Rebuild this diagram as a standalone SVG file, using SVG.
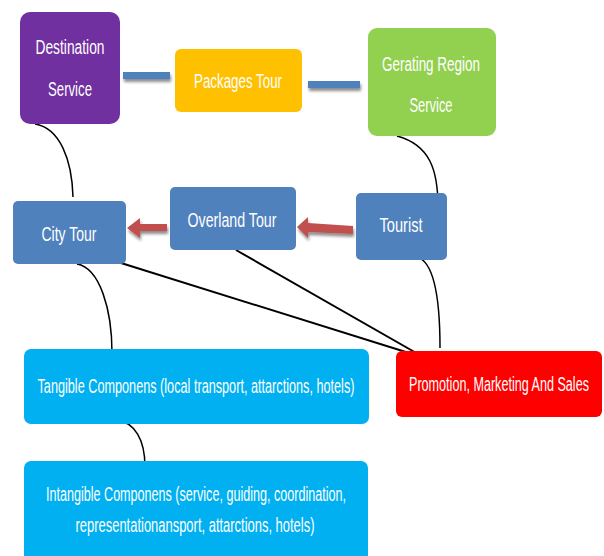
<svg xmlns="http://www.w3.org/2000/svg" width="604" height="556" viewBox="0 0 604 556">
<style>
text{font-family:"Liberation Sans",Arial,sans-serif;font-size:21px;fill:#ffffff;text-anchor:middle}
.curve{fill:none;stroke:#000;stroke-width:1.5}
.line{fill:none;stroke:#000;stroke-width:2}
.bar{fill:#4F81BD}
.arrow{fill:#C0504D}
</style>
<defs>
<filter id="sh" x="-20%" y="-50%" width="140%" height="250%">
<feGaussianBlur in="SourceAlpha" stdDeviation="1.5"/>
<feOffset dx="1" dy="3" result="b"/>
<feComponentTransfer><feFuncA type="linear" slope="0.45"/></feComponentTransfer>
<feMerge><feMergeNode/><feMergeNode in="SourceGraphic"/></feMerge>
</filter>
</defs>
<rect width="604" height="556" fill="#ffffff"/>
<g id="connectors">
<rect class="bar" x="123" y="72" width="47" height="7" filter="url(#sh)"/>
<rect class="bar" x="308" y="81" width="52" height="7" filter="url(#sh)"/>
<polygon class="arrow" filter="url(#sh)" points="127,228 140,218 140,224 167,224 167,231 140,231 140,238"/>
<polygon class="arrow" filter="url(#sh)" points="297,227 308,217 308,223 353,226 353,234 308,232 308,238"/>
<path class="curve" d="M35,124 C60,128 72,160 73,197"/>
<path class="curve" d="M397,136 C430,145 438,170 438,207"/>
<path class="curve" d="M417,257 C435,262 440,300 440,348"/>
<path class="curve" d="M77,264 C100,268 112,310 112,353"/>
<path class="curve" d="M116,420 C135,422 145,440 145,467"/>
<path class="line" d="M121,263 L425,358"/>
<path class="line" d="M236,250 L425,358"/>
</g>
<g id="destination-service">
<rect x="20" y="12" width="100" height="112" rx="10" fill="#7030A0"/>
<text transform="scale(0.65,1)" x="107.69" y="54" textLength="106.15" lengthAdjust="spacingAndGlyphs">Destination</text>
<text transform="scale(0.65,1)" x="107.69" y="96" textLength="67.69" lengthAdjust="spacingAndGlyphs">Service</text>
</g>
<g id="packages-tour">
<rect x="175" y="49" width="127" height="63" rx="6" fill="#FFC000"/>
<text transform="scale(0.65,1)" x="366.15" y="88" textLength="135.38" lengthAdjust="spacingAndGlyphs">Packages Tour</text>
</g>
<g id="gerating-region-service">
<rect x="368" y="28" width="128" height="108" rx="9" fill="#92D050"/>
<text transform="scale(0.65,1)" x="663.08" y="71" textLength="150.77" lengthAdjust="spacingAndGlyphs">Gerating Region</text>
<text transform="scale(0.65,1)" x="663.08" y="112" textLength="66.15" lengthAdjust="spacingAndGlyphs">Service</text>
</g>
<g id="city-tour">
<rect x="13" y="201" width="113" height="63" rx="5" fill="#4F81BD"/>
<text transform="scale(0.65,1)" x="106.15" y="241" textLength="84.62" lengthAdjust="spacingAndGlyphs">City Tour</text>
</g>
<g id="overland-tour">
<rect x="170" y="187" width="126" height="63" rx="5" fill="#4F81BD"/>
<text transform="scale(0.65,1)" x="356.92" y="227" textLength="136.92" lengthAdjust="spacingAndGlyphs">Overland Tour</text>
</g>
<g id="tourist">
<rect x="356" y="193" width="91" height="67" rx="5" fill="#4F81BD"/>
<text transform="scale(0.65,1)" x="616.92" y="232" textLength="66.15" lengthAdjust="spacingAndGlyphs">Tourist</text>
</g>
<g id="tangible-componens">
<rect x="24" y="349" width="345" height="75" rx="7" fill="#00B0F0"/>
<text transform="scale(0.65,1)" x="301.54" y="393" textLength="487.69" lengthAdjust="spacingAndGlyphs">Tangible Componens (local transport, attarctions, hotels)</text>
</g>
<g id="promotion-marketing-sales">
<rect x="396" y="351" width="206" height="66" rx="6" fill="#FF0000"/>
<text transform="scale(0.65,1)" x="767.69" y="391" textLength="276.92" lengthAdjust="spacingAndGlyphs">Promotion, Marketing And Sales</text>
</g>
<g id="intangible-componens">
<rect x="24" y="461" width="344" height="105" rx="7" fill="#00B0F0"/>
<text transform="scale(0.65,1)" x="301.54" y="501" textLength="461.54" lengthAdjust="spacingAndGlyphs">Intangible Componens (service, guiding, coordination,</text>
<text transform="scale(0.65,1)" x="300" y="532" textLength="367.69" lengthAdjust="spacingAndGlyphs">representationansport, attarctions, hotels)</text>
</g>
</svg>
